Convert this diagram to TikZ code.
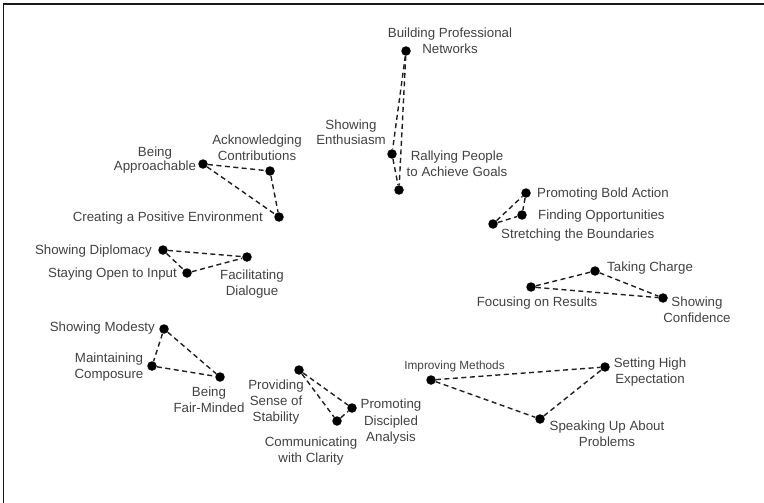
\documentclass[tikz,border=0pt]{standalone}
\usepackage{fontspec}
\setmainfont{Liberation Sans}
\begin{document}
\begin{tikzpicture}[x=1pt,y=-1pt,
  dot/.style={circle,fill=black,draw=none,minimum size=9.5pt,inner sep=0pt},
  link/.style={dashed,dash pattern=on 5pt off 3.5pt,line width=1.4pt,black!88},
  lbl/.style={inner sep=0pt,text=black!74,font=\fontsize{13.3}{16}\selectfont,align=center},
  lbltight/.style={lbl,font=\fontsize{13.3}{13.5}\selectfont},
  lblsmall/.style={lbl,font=\fontsize{11.8}{14}\selectfont},
  frame/.style={line width=1.8pt,black!90}]
\useasboundingbox (0,0) rectangle (764,503);
% frame: left and top edges only
\draw[frame] (3.5,503) -- (3.5,4) -- (764,4);

% ---- points ----
\node[dot] (bpn) at (406,51) {};
\node[dot] (se)  at (392,154) {};
\node[dot] (rp)  at (399,190) {};
\node[dot] (ba)  at (203,164) {};
\node[dot] (ac)  at (270,171) {};
\node[dot] (cpe) at (279,217) {};
\node[dot] (sd)  at (163,250) {};
\node[dot] (fd)  at (247,257) {};
\node[dot] (soi) at (187,273) {};
\node[dot] (pba) at (526,193) {};
\node[dot] (fo)  at (522,215) {};
\node[dot] (sb)  at (493,224) {};
\node[dot] (tc)  at (595,271) {};
\node[dot] (fr)  at (531,287) {};
\node[dot] (sc)  at (663,298) {};
\node[dot] (sm)  at (164,329) {};
\node[dot] (mc)  at (152,366) {};
\node[dot] (bfm) at (220,377) {};
\node[dot] (pss) at (299,370) {};
\node[dot] (pda) at (352,408) {};
\node[dot] (cc)  at (337,421) {};
\node[dot] (im)  at (431,380) {};
\node[dot] (shx) at (605,367) {};
\node[dot] (su)  at (540,419) {};

% ---- dashed triangles ----
\draw[link] (bpn) -- (se);  \draw[link] (bpn) -- (rp);  \draw[link] (se) -- (rp);
\draw[link] (ba) -- (ac);   \draw[link] (ba) -- (cpe);  \draw[link] (ac) -- (cpe);
\draw[link] (sd) -- (fd);   \draw[link] (sd) -- (soi);  \draw[link] (soi) -- (fd);
\draw[link] (sb) -- (pba);  \draw[link] (sb) -- (fo);   \draw[link] (pba) -- (fo);
\draw[link] (fr) -- (tc);   \draw[link] (fr) -- (sc);   \draw[link] (tc) -- (sc);
\draw[link] (sm) -- (mc);   \draw[link] (sm) -- (bfm);  \draw[link] (mc) -- (bfm);
\draw[link] (pss) -- (pda); \draw[link] (pss) -- (cc);  \draw[link] (cc) -- (pda);
\draw[link] (im) -- (shx);  \draw[link] (im) -- (su);   \draw[link] (su) -- (shx);

% ---- labels (base = baseline of the last line) ----
\node[lbl,anchor=base] (tbpn) at (450,54) {Building Professional\\[0.5pt]Networks};
\node[lbl,anchor=base] (tse)  at (351,145) {Showing\\Enthusiasm};
\node[lbl,anchor=base] (trp)  at (457,176) {Rallying People\\to Achieve Goals};
\node[lbltight,anchor=base] (tba) at (155,170) {Being\\Approachable};
\node[lbl,anchor=base] (tac)  at (257,160.5) {Acknowledging\\Contributions};
\node[lbl,anchor=base east] (tcpe) at (263,221.5) {Creating a Positive Environment};
\node[lbl,anchor=base east] (tsd)  at (152,254.5) {Showing Diplomacy};
\node[lbl,anchor=base east] (tsoi) at (177,277.5) {Staying Open to Input};
\node[lbl,anchor=base] (tfd)  at (252,295.5) {Facilitating\\Dialogue};
\node[lbl,anchor=base west] (tpba) at (537,197.5) {Promoting Bold Action};
\node[lbl,anchor=base west] (tfo)  at (538,219.5) {Finding Opportunities};
\node[lbl,anchor=base west] (tsb)  at (501,238.5) {Stretching the Boundaries};
\node[lbl,anchor=base west] (ttc)  at (607,271.5) {Taking Charge};
\node[lbl,anchor=base] (tfr)  at (537,306.5) {Focusing on Results};
\node[lbl,anchor=base] (tsc)  at (697,322.5) {Showing\\Confidence};
\node[lbl,anchor=base east] (tsm)  at (155,331.5) {Showing Modesty};
\node[lbl,anchor=base] (tmc)  at (109,378.5) {Maintaining\\Composure};
\node[lbl,anchor=base] (tbfm) at (209,412.5) {Being\\Fair-Minded};
\node[lbl,anchor=base] (tpss) at (276,421.5) {Providing\\Sense of\\Stability};
\node[lbl,anchor=base] (tpda) at (391,441.5) {Promoting\\[0.5pt]Discipled\\[0.5pt]Analysis};
\node[lbl,anchor=base] (tcc)  at (311,462.5) {Communicating\\with Clarity};
\node[lblsmall,anchor=base] (tim) at (454.5,369) {Improving Methods};
\node[lbl,anchor=base] (tshx) at (650,383) {Setting High\\[-0.5pt]Expectation};
\node[lbl,anchor=base] (tsu)  at (607,446.5) {Speaking Up About\\Problems};
\end{tikzpicture}
\end{document}
